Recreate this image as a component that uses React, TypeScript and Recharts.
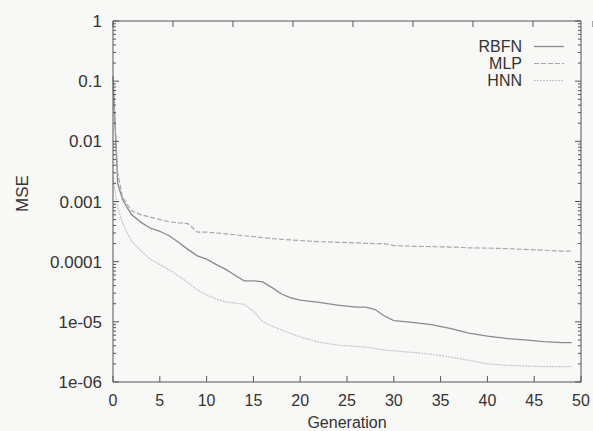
import React from "react";
import { Line, LineChart, XAxis, YAxis } from "recharts";

// generations (a few half steps at the start, where the curves drop fast)
const GENERATIONS = [
  0, 0.5, 1, 1.5, 2, 3, 4, 5, 6, 7, 8, 9, 10, 11, 12, 13, 14, 15, 16, 17, 18,
  19, 20, 22, 24, 26, 27, 28, 29, 30, 32, 34, 36, 38, 40, 42, 44, 46, 48, 49,
];

const RBFN = [
  0.12, 0.002, 0.0011, 8e-4, 6e-4, 4.5e-4, 3.6e-4, 3.2e-4, 2.7e-4, 2.1e-4,
  1.6e-4, 1.25e-4, 1.1e-4, 9e-5, 7.5e-5, 6e-5, 4.8e-5, 4.8e-5, 4.6e-5, 3.7e-5,
  2.9e-5, 2.5e-5, 2.3e-5, 2.1e-5, 1.9e-5, 1.75e-5, 1.75e-5, 1.6e-5, 1.25e-5,
  1.05e-5, 9.8e-6, 9e-6, 7.8e-6, 6.5e-6, 5.8e-6, 5.3e-6, 5e-6, 4.7e-6, 4.5e-6,
  4.5e-6,
];

const MLP = [
  0.08, 0.003, 0.0012, 9e-4, 7e-4, 6e-4, 5.5e-4, 5e-4, 4.6e-4, 4.4e-4, 4.3e-4,
  3.1e-4, 3.1e-4, 3e-4, 2.9e-4, 2.8e-4, 2.7e-4, 2.6e-4, 2.5e-4, 2.42e-4,
  2.35e-4, 2.3e-4, 2.25e-4, 2.15e-4, 2.1e-4, 2.05e-4, 2.02e-4, 2e-4, 2e-4,
  1.85e-4, 1.8e-4, 1.78e-4, 1.75e-4, 1.7e-4, 1.68e-4, 1.65e-4, 1.6e-4,
  1.55e-4, 1.5e-4, 1.5e-4,
];

const HNN = [
  0.0025, 8e-4, 4.5e-4, 3e-4, 2.2e-4, 1.5e-4, 1.1e-4, 9e-5, 7.3e-5, 5.8e-5,
  4.5e-5, 3.4e-5, 2.8e-5, 2.4e-5, 2.15e-5, 2.05e-5, 1.95e-5, 1.5e-5, 1e-5,
  8.5e-6, 7.3e-6, 6.4e-6, 5.6e-6, 4.6e-6, 4.1e-6, 3.9e-6, 3.8e-6, 3.6e-6,
  3.4e-6, 3.3e-6, 3.1e-6, 2.9e-6, 2.6e-6, 2.3e-6, 2e-6, 1.9e-6, 1.85e-6,
  1.8e-6, 1.8e-6, 1.8e-6,
];

const X_TICKS = [0, 5, 10, 15, 20, 25, 30, 35, 40, 45, 50];
const Y_MAJOR = [1e-6, 1e-5, 1e-4, 1e-3, 1e-2, 1e-1, 1];
const Y_LABELS = ["1e-06", "1e-05", "0.0001", "0.001", "0.01", "0.1", "1"];
// log minor ticks 2..9 in each decade
const Y_MINOR = Y_MAJOR.slice(0, -1).flatMap((m) =>
  [2, 3, 4, 5, 6, 7, 8, 9].map((k) => m * k),
);
const Y_TICKS = [...Y_MAJOR, ...Y_MINOR].sort((a, b) => a - b);

const SERIES = [
  { key: "rbfn", name: "RBFN", color: "#8a8a8a", dash: undefined, width: 1.3 },
  { key: "mlp", name: "MLP", color: "#a8a8a8", dash: "5 2", width: 1.2 },
  { key: "hnn", name: "HNN", color: "#c4c4c4", dash: "2 1", width: 1.2 },
];

const data = GENERATIONS.map((g, i) => ({
  gen: g,
  rbfn: RBFN[i],
  mlp: MLP[i],
  hnn: HNN[i],
}));

const FONT = "'Liberation Sans', Arial, Helvetica, sans-serif";
const AXIS = "#555";
const TEXT = "#333";

const isMajor = (v: number) => {
  const l = Math.log10(v);
  return Math.abs(l - Math.round(l)) < 1e-6;
};
const yLabel = (v: number) => {
  const i = Y_MAJOR.findIndex((m) => Math.abs(m - v) / m < 1e-6);
  return i >= 0 ? Y_LABELS[i] : "";
};

// ticks point inwards, gnuplot style
const LeftTick = (p: any) => {
  const v = p.payload.value;
  const major = isMajor(v);
  return (
    <g>
      <line x1={p.x} y1={p.y} x2={p.x + (major ? 6 : 3)} y2={p.y} stroke={AXIS} />
      {major && (
        <text x={p.x - 11} y={p.y} dy={6} textAnchor="end" fill={TEXT} fontSize={17} fontFamily={FONT}>
          {yLabel(v)}
        </text>
      )}
    </g>
  );
};

const RightTick = (p: any) => {
  const major = isMajor(p.payload.value);
  return <line x1={p.x} y1={p.y} x2={p.x - (major ? 6 : 3)} y2={p.y} stroke={AXIS} />;
};

const BottomTick = (p: any) => (
  <g>
    <line x1={p.x} y1={p.y} x2={p.x} y2={p.y - 6} stroke={AXIS} />
    <text x={p.x} y={p.y} dy={24} textAnchor="middle" fill={TEXT} fontSize={16} fontFamily={FONT}>
      {p.payload.value}
    </text>
  </g>
);

const TopTick = (p: any) => (
  <line x1={p.x} y1={p.y} x2={p.x} y2={p.y + 6} stroke={AXIS} />
);

export default function App() {
  return (
    <div
      style={{
        position: "fixed",
        left: 0,
        top: 0,
        width: 593,
        height: 431,
        background: "#f8f8f7",
        fontFamily: FONT,
      }}
    >
      <LineChart width={593} height={431} data={data} margin={{ top: 0, right: 0, bottom: 0, left: 0 }}>
        <XAxis
          dataKey="gen"
          type="number"
          domain={[0, 50]}
          ticks={X_TICKS}
          interval={0}
          height={49}
          tickSize={0}
          tickMargin={0}
          tickLine={false}
          axisLine={{ stroke: AXIS }}
          tick={BottomTick}
          label={{
            content: (lp: any) => {
              const vb = lp.viewBox;
              return (
                <text x={vb.x + vb.width / 2} y={vb.y + 46} textAnchor="middle" fill={TEXT} fontSize={16} fontFamily={FONT}>
                  Generation
                </text>
              );
            },
          }}
        />
        <XAxis
          xAxisId="top"
          orientation="top"
          type="number"
          domain={[0, 50]}
          ticks={X_TICKS}
          interval={0}
          height={21}
          tickSize={0}
          tickMargin={0}
          tickLine={false}
          axisLine={{ stroke: AXIS }}
          tick={TopTick}
        />
        <YAxis
          type="number"
          scale="log"
          domain={[1e-6, 1]}
          allowDataOverflow
          ticks={Y_TICKS}
          interval={0}
          width={113}
          tickSize={0}
          tickMargin={0}
          tickLine={false}
          axisLine={{ stroke: AXIS }}
          tick={LeftTick}
          label={{
            content: (lp: any) => {
              const vb = lp.viewBox;
              const cx = vb.x + 28;
              const cy = vb.y + vb.height / 2 - 8;
              return (
                <text x={cx} y={cy} transform={`rotate(-90 ${cx} ${cy})`} textAnchor="middle" fill={TEXT} fontSize={17} fontFamily={FONT}>
                  MSE
                </text>
              );
            },
          }}
        />
        <YAxis
          yAxisId="right"
          orientation="right"
          type="number"
          scale="log"
          domain={[1e-6, 1]}
          allowDataOverflow
          ticks={Y_TICKS}
          interval={0}
          width={12}
          tickSize={0}
          tickMargin={0}
          tickLine={false}
          axisLine={{ stroke: AXIS }}
          tick={RightTick}
        />
        {SERIES.map((s) => (
          <Line
            key={s.key}
            dataKey={s.key}
            name={s.name}
            type="linear"
            stroke={s.color}
            strokeWidth={s.width}
            strokeDasharray={s.dash}
            dot={false}
            activeDot={false}
            isAnimationActive={false}
          />
        ))}
      </LineChart>
      <div style={{ position: "absolute", left: 400, top: 38, width: 175 }}>
        {SERIES.map((s) => (
          <div key={s.key} style={{ display: "flex", alignItems: "center", height: 17 }}>
            <span style={{ width: 125, textAlign: "right", fontSize: 16, lineHeight: "17px", color: TEXT }}>
              {s.name}
            </span>
            <svg width={42} height={17} style={{ marginLeft: 12 }}>
              <line x1={0} y1={8.5} x2={30} y2={8.5} stroke={s.color} strokeWidth={s.width} strokeDasharray={s.dash} />
            </svg>
          </div>
        ))}
      </div>
    </div>
  );
}
